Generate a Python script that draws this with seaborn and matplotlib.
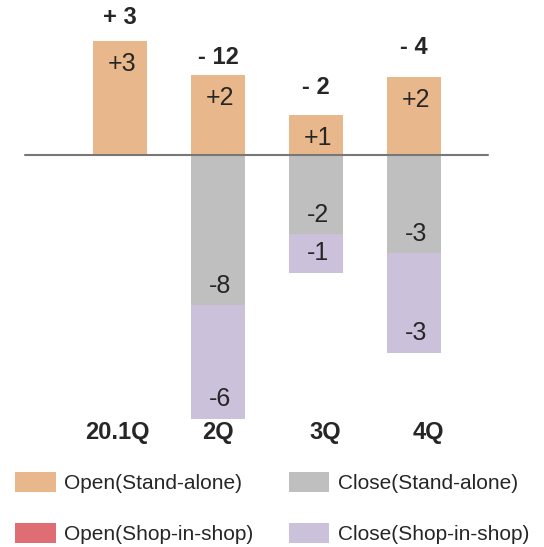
import pandas as pd
import seaborn as sns
import matplotlib.pyplot as plt
from matplotlib.patches import Patch

# Datos del gráfico
quarters = ["20.1Q", "2Q", "3Q", "4Q"]
totals = ["+ 3", "- 12", "- 2", "- 4"]
open_sa_labels = ["+3", "+2", "+1", "+2"]
close_sa_labels = ["", "-8", "-2", "-3"]
close_sis_labels = ["", "-6", "-1", "-3"]
# longitudes de barra tal como se dibujan (el gráfico no está a escala)
open_sa_len = [3.0, 2.1, 1.05, 2.05]
close_sa_len = [0.0, 3.95, 2.08, 2.58]
close_sis_len = [0.0, 3.0, 1.03, 2.63]
legend_labels = ["Open(Stand-alone)", "Open(Shop-in-shop)",
                 "Close(Stand-alone)", "Close(Shop-in-shop)"]
colors = ["#E8B88C", "#DE6E73", "#BFBFBF", "#CCC1DA"]

sns.set_style("white")
plt.rcParams['font.family'] = ['Liberation Sans', 'DejaVu Sans']

df = pd.DataFrame({
    "quarter": quarters,
    "open": open_sa_len,
    "close_all": [-(a + b) for a, b in zip(close_sa_len, close_sis_len)],
    "close_sa": [-a for a in close_sa_len],
})

fig = plt.figure(figsize=(5.44, 5.47), dpi=100)
ax = fig.add_axes([0, 0, 1, 1])

px = 1 / 38  # un píxel en unidades de datos (vertical)
bar_w = 0.55
sns.barplot(data=df, x="quarter", y="open", color=colors[0], saturation=1,
            width=bar_w, linewidth=0, errorbar=None, ax=ax)
sns.barplot(data=df, x="quarter", y="close_all", color=colors[3], saturation=1,
            width=bar_w, linewidth=0, errorbar=None, ax=ax)
sns.barplot(data=df, x="quarter", y="close_sa", color=colors[2], saturation=1,
            width=bar_w, linewidth=0, errorbar=None, ax=ax)

# línea base
ax.plot([-95 / 98, 368 / 98], [0, 0], color="#777777", lw=1.5, zorder=5)

total_gap = [23, 18, 28, 30]  # separación en px sobre la barra
for i in range(len(quarters)):
    ax.text(i + 0.02, open_sa_len[i] - 23 * px, open_sa_labels[i],
            ha="center", va="center", fontsize=18)
    ax.text(i, open_sa_len[i] + total_gap[i] * px, totals[i], ha="center",
            va="center", fontsize=17, fontweight="bold")
    if close_sa_labels[i]:
        ax.text(i + 0.02, -close_sa_len[i] + 19 * px, close_sa_labels[i],
                ha="center", va="center", fontsize=18)
    if close_sis_labels[i]:
        ax.text(i + 0.02, -(close_sa_len[i] + close_sis_len[i]) + 20 * px,
                close_sis_labels[i], ha="center", va="center", fontsize=18)

label_shift = [-3, 0, 9, 14]
for i, q in enumerate(quarters):
    ax.text(i + label_shift[i] / 98, -278 * px, q, ha="center", va="center",
            fontsize=17, fontweight="bold")

ax.set_xlim(-120 / 98, 424 / 98)
ax.set_ylim(-392 * px, 155 * px)
ax.axis("off")

handles = [Patch(facecolor=c, edgecolor="none") for c in colors]
fig.legend(handles, legend_labels, loc="upper left",
           bbox_to_anchor=(15 / 544, 1 - 472 / 547), ncol=2, frameon=False,
           fontsize=15, borderpad=0, borderaxespad=0, handlelength=1.95,
           handleheight=1.1, handletextpad=0.4, labelspacing=1.45,
           columnspacing=1.7)

plt.savefig("out.png", dpi=100)
